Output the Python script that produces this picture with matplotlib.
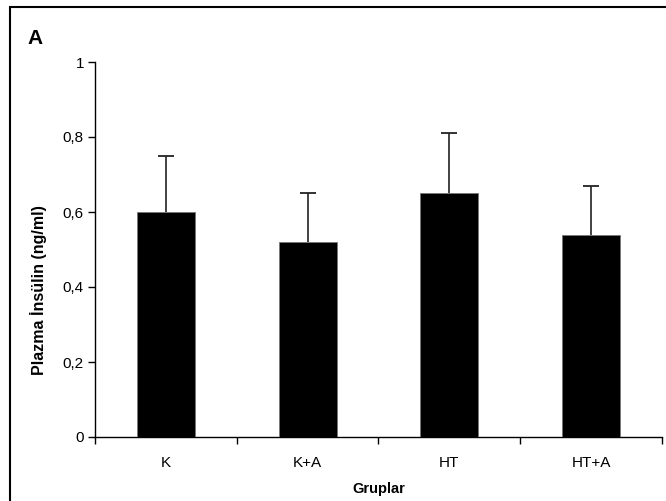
import matplotlib.pyplot as plt
from matplotlib.patches import Rectangle
from matplotlib.ticker import FuncFormatter

# Data
groups = ['K', 'K+A', 'HT', 'HT+A']
means = [0.60, 0.52, 0.65, 0.54]
errors = [0.15, 0.13, 0.16, 0.13]

plt.rcParams['font.family'] = ['Liberation Sans', 'DejaVu Sans']

W, H = 666, 501
fig = plt.figure(figsize=(W / 100, H / 100), dpi=100)

# Axes placed to match the reference pixel layout
ax = fig.add_axes([95 / W, 1 - 437 / H, (662 - 95) / W, (437 - 62) / H])

x = list(range(len(groups)))
ax.bar(x, means, width=0.41, color='black', edgecolor='#777777', linewidth=0.6, zorder=3)

# upper-only error bars: stem from bar top, cap at the end
tops = [m + e for m, e in zip(means, errors)]
ax.vlines(x, means, tops, color='#222222', linewidth=1.2, zorder=2)
ax.plot(x, tops, linestyle='none', marker='_', markersize=12, markeredgewidth=1.3,
        color='#222222', zorder=2)

ax.set_xlim(-0.5, len(groups) - 0.5)
ax.set_ylim(0, 1)
ax.set_yticks([0, 0.2, 0.4, 0.6, 0.8, 1.0])
ax.yaxis.set_major_formatter(FuncFormatter(lambda v, p: ('%g' % round(v, 1)).replace('.', ',')))

ax.set_xticks(x)
ax.set_xticklabels(groups)
ax.set_xticks([i + 0.5 for i in range(-1, len(groups))], minor=True)
ax.tick_params(axis='x', which='major', length=0, pad=14, labelsize=11)
ax.tick_params(axis='x', which='minor', length=5, width=1, direction='out')
ax.tick_params(axis='y', length=5, width=1, direction='out', labelsize=11, pad=3)

for side in ['top', 'right']:
    ax.spines[side].set_visible(False)
for side in ['left', 'bottom']:
    ax.spines[side].set_linewidth(1)

ax.set_ylabel('Plazma İnsülin (ng/ml)', fontsize=11.5, fontweight='bold')
ax.yaxis.set_label_coords(-0.084, 0.392)
ax.set_xlabel('Gruplar', fontsize=10.5, fontweight='bold', labelpad=8)

# Panel letter and outer frame
fig.text(27 / W, 1 - 44 / H, 'A', fontsize=15, fontweight='bold', ha='left', va='baseline')
fig.patches.append(Rectangle((10 / W, -0.1), 1.2, 1 - 7 / H + 0.1, transform=fig.transFigure,
                             fill=False, edgecolor='black', linewidth=1.5))

fig.savefig('out.png', dpi=100)
